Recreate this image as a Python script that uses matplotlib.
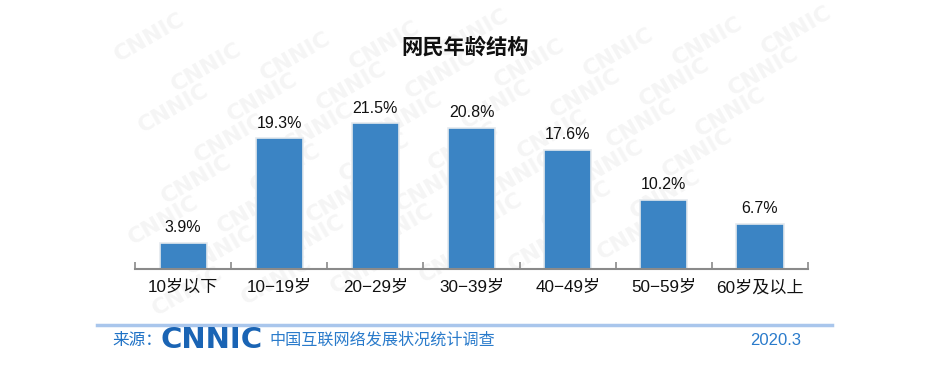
import matplotlib.pyplot as plt
import numpy as np

categories = ['10岁以下', '10-19岁', '20-29岁', '30-39岁', '40-49岁', '50-59岁', '60岁及以上']
shares = [3.9, 19.3, 21.5, 20.8, 17.6, 10.2, 6.7]

fonts = ['Liberation Sans', 'Noto Sans CJK SC', 'DejaVu Sans']
plt.rcParams['font.family'] = fonts

fig = plt.figure(figsize=(9.37, 3.74), dpi=100)

# faint watermark on a background axes
bg = fig.add_axes([0, 0, 1, 1], zorder=-5)
bg.set_axis_off()
bg.set_xlim(0, 1)
bg.set_ylim(0, 1)
for row in range(8):
    for col in range(9):
        x = 0.16 + col * 0.095 - row * 0.035
        y = 0.90 - row * 0.11 + col * 0.03
        if 0.15 < x < 0.86 and 0.17 < y < 0.93:
            bg.text(x, y, 'CNNIC', rotation=30, fontsize=16, fontweight='bold',
                    color='#f5f5f5', ha='center', va='center', family='DejaVu Sans')

ax = fig.add_axes([0.1441, 0.2807, 0.7183, 0.4538])
ax.patch.set_alpha(0)

pos = np.arange(len(categories))
bars = ax.bar(pos, shares, width=0.49, color='#3b84c4', edgecolor='#e4e9ee', linewidth=1.2, zorder=2)
for b, v in zip(bars, shares):
    ax.text(b.get_x() + b.get_width() / 2, v + 1.1, f'{v}%', ha='center', va='bottom',
            fontsize=11.5, color='#111111')

ax.set_xlim(-0.5, len(categories) - 0.5)
ax.set_ylim(0, 25)
for s in ['top', 'right', 'left']:
    ax.spines[s].set_visible(False)
ax.spines['bottom'].set_color('#8a8a8a')
ax.spines['bottom'].set_linewidth(1.5)
ax.set_yticks([])
ax.set_xticks(pos)
ax.set_xticklabels([c.replace('-', '−') for c in categories], fontsize=12.3, color='#111111')
ax.tick_params(axis='x', length=0, pad=8)
ax.set_xticks(np.arange(-0.5, len(categories)), minor=True)
ax.tick_params(axis='x', which='minor', direction='in', length=5, width=1.2, color='#8a8a8a')

fig.text(0.496, 0.874, '网民年龄结构', ha='center', va='center', fontsize=15.3,
         fontweight='bold', color='#111111')

# footer
fig.add_artist(plt.Line2D([0.104, 0.888], [0.131, 0.131], color='#a9c6ec', lw=2.5))
fig.text(0.120, 0.090, '来源：', ha='left', va='center', fontsize=12, color='#1f72c6')
fig.text(0.171, 0.092, 'CNNIC', ha='left', va='center', fontsize=21, fontweight='bold',
         color='#1a64b4', family='DejaVu Sans')
fig.text(0.288, 0.090, '中国互联网络发展状况统计调查', ha='left', va='center', fontsize=11.6,
         color='#2a7bcb')
fig.text(0.855, 0.090, '2020.3', ha='right', va='center', fontsize=12, color='#2a7bcb')

fig.savefig('out.png', dpi=100)
